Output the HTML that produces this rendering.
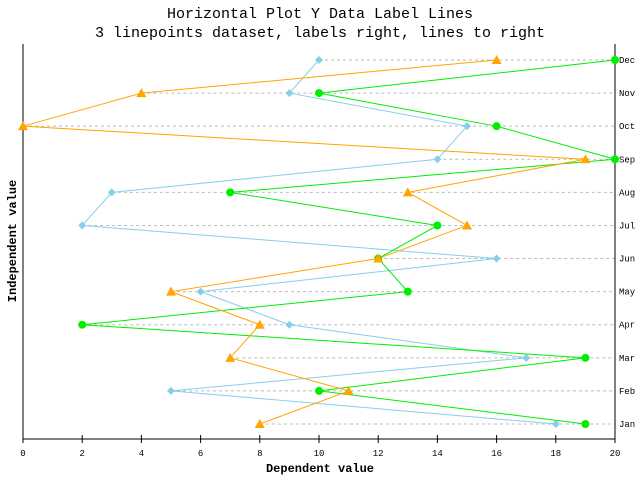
<!DOCTYPE html>
<html><head><meta charset="utf-8"><style>
body{margin:0;background:#fff}
svg text{font-family:"Liberation Mono",monospace}
</style></head><body>
<svg width="640" height="480" xmlns="http://www.w3.org/2000/svg">
<rect width="640" height="480" fill="#fff"/>
<text x="320" y="18" text-anchor="middle" font-size="15">Horizontal Plot Y Data Label Lines</text>
<text x="320" y="37" text-anchor="middle" font-size="15">3 linepoints dataset, labels right, lines to right</text>
<text x="320" y="472" text-anchor="middle" font-size="12" font-weight="bold">Dependent value</text>
<text transform="translate(16,241) rotate(-90)" text-anchor="middle" font-size="12" font-weight="bold">Independent value</text>
<g id="grid"></g><g id="axes"></g><g id="series"></g>
</svg>
<script>
const categories=["Jan","Feb","Mar","Apr","May","Jun","Jul","Aug","Sep","Oct","Nov","Dec"];
const blueValues=[18,5,17,9,6,16,2,3,14,15,9,10];
const greenValues=[19,10,19,2,13,12,14,7,20,16,10,20];
const orangeValues=[8,11,7,8,5,12,15,13,19,0,4,16];
const xTicks=[0,2,4,6,8,10,12,14,16,18,20];
const NS="http://www.w3.org/2000/svg";
const X0=23,X1=615,YTOP=44,YBOT=439,ROW0=424,ROWN=60;
const xs=v=>X0+(v-0)/20*(X1-X0);
const ys=i=>ROW0+(ROWN-ROW0)*i/(categories.length-1);
function mk(t,a,p){const e=document.createElementNS(NS,t);for(const k in a)e.setAttribute(k,a[k]);p.appendChild(e);return e;}
const grid=document.getElementById('grid'),axes=document.getElementById('axes'),ser=document.getElementById('series');
categories.forEach((c,i)=>{
 const mn=Math.min(blueValues[i],greenValues[i],orangeValues[i]);
 const l=mk('line',{x1:xs(mn),x2:X1,y1:ys(i),y2:ys(i),stroke:'#bbb','stroke-dasharray':'3,3'},grid);
 
 
 const t=mk('text',{x:X1+4,y:ys(i)+3,'font-size':'9'},axes);t.textContent=c;
 
 
});
let a=mk('line',{x1:X0,x2:X0,y1:YTOP,y2:YBOT,stroke:'#000'},axes);


a=mk('line',{x1:X1,x2:X1,y1:YTOP,y2:YBOT,stroke:'#000'},axes);


a=mk('line',{x1:X0,x2:X1,y1:YBOT,y2:YBOT,stroke:'#000'},axes);


xTicks.forEach(v=>{
 const tk=mk('line',{x1:xs(v),x2:xs(v),y1:YBOT-4,y2:YBOT+4,stroke:'#000'},axes);
 
 
 const t=mk('text',{x:xs(v),y:YBOT+17,'font-size':'9','text-anchor':'middle'},axes);t.textContent=v;
 
 
});
function series(vals,color,shape,name){
 const g=mk('g',{},ser);
 
 
 const pl=mk('polyline',{points:vals.map((v,i)=>xs(v)+','+ys(i)).join(' '),fill:'none',stroke:color,'stroke-width':'1'},g);
 
 
 vals.forEach((v,i)=>{
  const x=xs(v),y=ys(i);let m;
  if(shape==='diamond')m=mk('polygon',{points:`${x},${y-4} ${x+4},${y} ${x},${y+4} ${x-4},${y}`,fill:color},g);
  else if(shape==='circle')m=mk('circle',{cx:x,cy:y,r:4,fill:color},g);
  else m=mk('polygon',{points:`${x},${y-5} ${x+5},${y+4} ${x-5},${y+4}`,fill:color},g);
  
  
 });
}
series(blueValues,'#87ceeb','diamond','series-blue');
series(greenValues,'#00ee00','circle','series-green');
series(orangeValues,'#ffa500','triangle','series-orange');
</script>
</body></html>
